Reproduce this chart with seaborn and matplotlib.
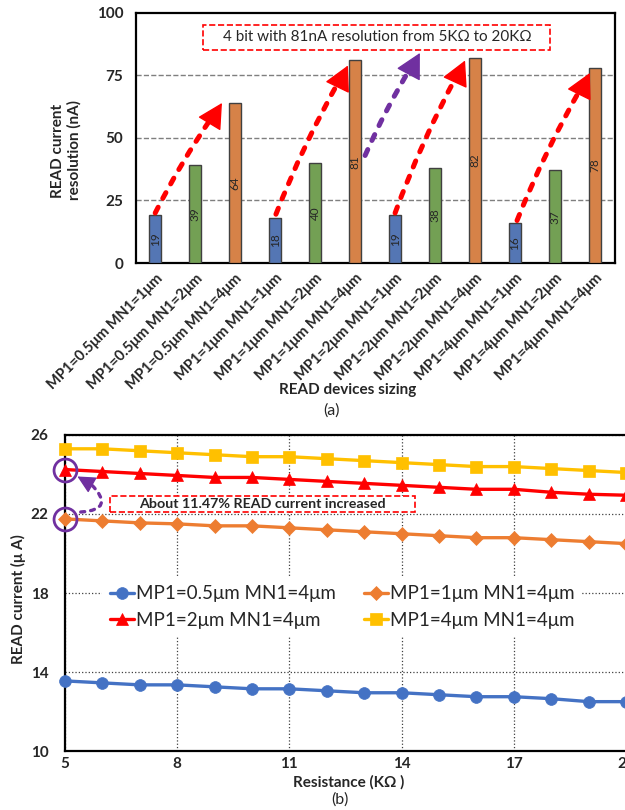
# %%
import seaborn as sns
import matplotlib.pyplot as plt
from matplotlib.patches import Rectangle

# %%
# (a) READ current resolution per device sizing
sizing = ['MP1=0.5μm MN1=1μm', 'MP1=0.5μm MN1=2μm', 'MP1=0.5μm MN1=4μm',
          'MP1=1μm MN1=1μm', 'MP1=1μm MN1=2μm', 'MP1=1μm MN1=4μm',
          'MP1=2μm MN1=1μm', 'MP1=2μm MN1=2μm', 'MP1=2μm MN1=4μm',
          'MP1=4μm MN1=1μm', 'MP1=4μm MN1=2μm', 'MP1=4μm MN1=4μm']
resolution = [19, 39, 64, 18, 40, 81, 19, 38, 82, 16, 37, 78]
bar_colors = ['#4472C4', '#70AD47', '#ED7D31'] * 4

# arrows: (start, tip, colour)
arrows_a = [((0.0, 20), (1.67, 64), 'red'),
            ((3.02, 19.5), (4.82, 79), 'red'),
            ((5.25, 43), (6.62, 84), '#7030A0'),
            ((6.0, 20), (7.75, 81), 'red'),
            ((9.05, 17), (10.87, 76), 'red')]

# (b) READ current vs resistance
resistance = [5, 6, 7, 8, 9, 10, 11, 12, 13, 14, 15, 16, 17, 18, 19, 20]
i_mp05 = [13.55, 13.45, 13.35, 13.35, 13.25, 13.15, 13.15, 13.05, 12.95, 12.95, 12.85, 12.75, 12.75, 12.65, 12.5, 12.5]
i_mp1 = [21.75, 21.65, 21.55, 21.5, 21.4, 21.4, 21.3, 21.2, 21.1, 21.0, 20.9, 20.8, 20.8, 20.7, 20.6, 20.5]
i_mp2 = [24.25, 24.15, 24.05, 23.95, 23.85, 23.85, 23.75, 23.65, 23.55, 23.45, 23.35, 23.25, 23.25, 23.1, 23.0, 22.95]
i_mp4 = [25.3, 25.3, 25.2, 25.1, 25.0, 24.9, 24.9, 24.8, 24.7, 24.6, 24.5, 24.4, 24.4, 24.3, 24.2, 24.1]
series_labels = ['MP1=0.5μm MN1=4μm', 'MP1=1μm MN1=4μm', 'MP1=2μm MN1=4μm', 'MP1=4μm MN1=4μm']
series_colors = ['#4472C4', '#ED7D31', '#FF0000', '#FFC000']
series_markers = ['o', 'D', '^', 's']
series_sizes = [8.5, 7, 8.5, 8.5]


def dashed_arrow(ax, start, tip, color, lw, rad, head_from, hl, hw, shrink):
    # dashed shaft + solid head drawn separately so the head stays crisp
    ax.annotate('', xy=tip, xytext=start,
                arrowprops=dict(arrowstyle='-', lw=lw, ls=(0, (1.3, 2.0)),
                                capstyle='round', color=color,
                                connectionstyle=f'arc3,rad={rad}',
                                shrinkA=0, shrinkB=shrink), zorder=5)
    ax.annotate('', xy=tip, xytext=head_from,
                arrowprops=dict(arrowstyle=f'-|>,head_length={hl},head_width={hw}',
                                mutation_scale=10, lw=1, color=color,
                                shrinkA=0, shrinkB=0), zorder=5)


# %%
sns.set_style('white')
plt.rcParams['font.family'] = ['Lato', 'DejaVu Sans']

fig = plt.figure(figsize=(6.25, 8.1), dpi=100)

# ---------- top chart ----------
ax1 = fig.add_axes([0.2176, 0.6753, 0.7664, 0.3087])
sns.barplot(x=sizing, y=resolution, hue=sizing, palette=bar_colors, legend=False,
            width=0.3, edgecolor='#404040', linewidth=1, ax=ax1, order=sizing, zorder=3)
ax1.set_xlim(-0.48, 11.5)
ax1.set_ylim(0, 100)
ax1.set_yticks([0, 25, 50, 75, 100])
for y in [25, 50, 75]:
    ax1.axhline(y, color='#7f7f7f', ls='--', lw=1, zorder=1)
for i, v in enumerate(resolution):
    ax1.text(i, v / 2, str(v), rotation=90, ha='center', va='center', fontsize=8.5, zorder=4)

ax1.set_xticks(range(len(sizing)))
ax1.set_xticklabels(sizing, rotation=45, ha='right', rotation_mode='anchor',
                    fontweight='bold', fontsize=10.5)
ax1.tick_params(axis='x', length=0, pad=6)
ax1.tick_params(axis='y', length=0, pad=9, labelsize=11)
for lab in ax1.get_yticklabels():
    lab.set_fontweight('bold')
for s in ax1.spines.values():
    s.set_color('black')
    s.set_linewidth(1.6)
ax1.set_xlabel('')
ax1.set_ylabel('READ current\nresolution (nA)', fontweight='bold', fontsize=11)
ax1.yaxis.set_label_coords(-0.113, 0.45)

for start, tip, c in arrows_a:
    dx, dy = tip[0] - start[0], tip[1] - start[1]
    head_from = (tip[0] - 0.12 * dx, tip[1] - 0.12 * dy)
    dashed_arrow(ax1, start, tip, c, 3.6, -0.04, head_from, 1.6, 0.85, 12)

ax1.add_patch(Rectangle((0.14, 0.852), 0.724, 0.1, transform=ax1.transAxes,
                        fc='white', ec='red', ls='--', lw=1.2, zorder=6))
ax1.text(0.5035, 0.902, '4 bit with 81nA resolution from 5KΩ to 20KΩ', transform=ax1.transAxes,
         ha='center', va='center', fontsize=11, zorder=7)

fig.text(348 / 625, 1 - 390 / 810, 'READ devices sizing', ha='center', va='center',
         fontweight='bold', fontsize=11)
fig.text(331 / 625, 1 - 411 / 810, '(a)', ha='center', va='center', fontsize=11.5)

# ---------- bottom chart ----------
ax2 = fig.add_axes([0.104, 0.0728, 0.8976, 0.3902])
for vals, lab, c, m, ms in zip([i_mp05, i_mp1, i_mp2, i_mp4], series_labels,
                               series_colors, series_markers, series_sizes):
    sns.lineplot(x=resistance, y=vals, ax=ax2, color=c, marker=m, markersize=ms,
                 lw=2.4, mec=c, mew=0.5, label=lab, clip_on=False, zorder=5)

ax2.set_xlim(5, 20)
ax2.set_ylim(10, 26)
ax2.set_xticks([5, 8, 11, 14, 17, 20])
ax2.set_yticks([10, 14, 18, 22, 26])
ax2.grid(True, color='#404040', ls=':', lw=0.9)
ax2.tick_params(axis='both', length=0, labelsize=11)
ax2.tick_params(axis='y', pad=12)
ax2.tick_params(axis='x', pad=4)
for lab in ax2.get_xticklabels() + ax2.get_yticklabels():
    lab.set_fontweight('bold')
for s in ax2.spines.values():
    s.set_color('black')
    s.set_linewidth(1.6)
ax2.spines['right'].set_visible(False)
ax2.set_ylabel('READ current (μ A)', fontweight='bold', fontsize=11)
ax2.yaxis.set_label_coords(-0.07, 0.48)
ax2.set_xlabel('')

handles, labels = ax2.get_legend_handles_labels()
order = [0, 2, 1, 3]
leg = ax2.legend([handles[k] for k in order], [labels[k] for k in order], ncol=2,
                 loc='center', bbox_to_anchor=(0.494, 0.456), fontsize=13.5,
                 handlelength=1.3, handletextpad=0.1, columnspacing=1.5,
                 labelspacing=0.5, frameon=True, framealpha=1, borderpad=0.4)
leg.get_frame().set_facecolor('white')
leg.get_frame().set_edgecolor('none')
leg.set_zorder(4)

# purple circles on the first points of 1um and 2um
ax2.plot([resistance[0], resistance[0]], [i_mp1[0], i_mp2[0]], ls='none', marker='o',
         ms=16.5, mfc='none', mec='#7030A0', mew=2, clip_on=False, zorder=7)
ax2.annotate('', xy=(5.7, 23.5), xytext=(5.42, 22.1),
             arrowprops=dict(arrowstyle='-', lw=2.4, ls=(0, (1.2, 1.8)),
                             capstyle='round', color='#7030A0',
                             connectionstyle='arc3,rad=1.1', shrinkA=0, shrinkB=0),
             zorder=7)
ax2.annotate('', xy=(5.33, 23.9), xytext=(5.72, 23.48),
             arrowprops=dict(arrowstyle='-|>,head_length=1.1,head_width=0.55',
                             mutation_scale=10, lw=1, color='#7030A0',
                             shrinkA=0, shrinkB=0), zorder=7)

ax2.add_patch(Rectangle((0.080, 0.756), 0.544, 0.051, transform=ax2.transAxes,
                        fc='white', ec='red', ls='--', lw=1.2, zorder=3))
ax2.text(0.351, 0.782, 'About 11.47% READ current increased', transform=ax2.transAxes,
         ha='center', va='center', fontsize=10.3, fontweight='bold', zorder=4)

fig.text(349 / 625, 1 - 782 / 810, 'Resistance (KΩ )', ha='center', va='center',
         fontweight='bold', fontsize=11)
fig.text(340 / 625, 1 - 800 / 810, '(b)', ha='center', va='center', fontsize=11.5)

plt.savefig('out.png', dpi=100)
